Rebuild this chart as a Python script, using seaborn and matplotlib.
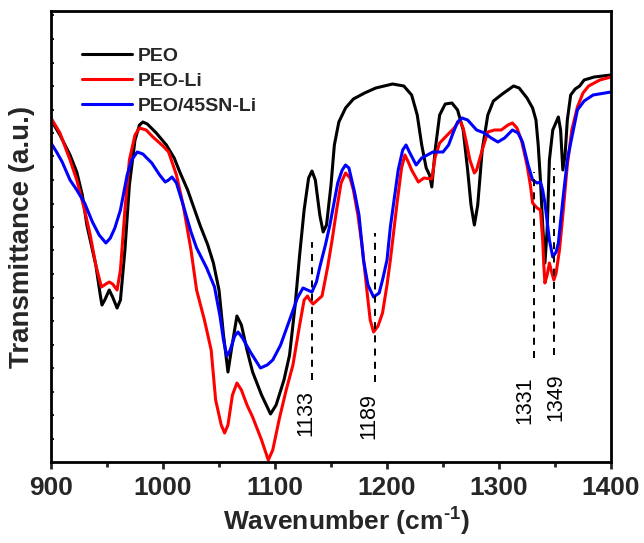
import numpy as np
import pandas as pd
import matplotlib
matplotlib.use("Agg")
import matplotlib.pyplot as plt
import seaborn as sns

# FTIR spectra (transmittance, arbitrary units) vs wavenumber (cm^-1)
peo_wn = [900, 908, 917, 923, 928, 932, 935, 940, 944, 945.5, 948, 952, 955, 959, 962, 966, 970, 975,
          979, 982, 986, 994, 1003, 1010, 1015, 1022, 1033, 1040, 1045, 1050, 1054, 1058, 1061, 1066,
          1070, 1075, 1080, 1088, 1096, 1101, 1108, 1113, 1118, 1122, 1126, 1130, 1133, 1136, 1140,
          1143, 1146, 1150, 1153, 1157, 1163, 1170, 1180, 1190, 1205, 1215, 1222, 1227, 1231, 1235,
          1238, 1240, 1243, 1247, 1252, 1258, 1263, 1268, 1272, 1275, 1278, 1281, 1285, 1290, 1295,
          1303, 1313, 1318, 1325, 1330, 1333, 1335, 1337, 1339, 1341, 1343, 1345, 1348, 1353, 1355,
          1357, 1359, 1361, 1364, 1368, 1372, 1376, 1385, 1400]
peo_px = [120, 135, 155, 172, 195, 225, 240, 265, 295, 305, 300, 290, 297, 308, 300, 250, 185, 140,
          125, 122, 124, 133, 145, 158, 172, 190, 225, 245, 263, 290, 335, 372, 350, 316,
          325, 350, 372, 395, 414, 405, 380, 355, 305, 255, 210, 178, 171, 180, 215,
          232, 225, 185, 145, 122, 108, 99, 93, 88, 84, 86, 95, 115, 145, 168,
          175, 187, 150, 115, 104, 103, 110, 130, 170, 205, 225, 205, 150, 115, 101,
          94, 86, 88, 98, 108, 120, 145, 180, 225, 263, 230, 160, 130, 117, 130,
          170, 155, 120, 95, 89, 86, 80, 77, 75]

peoli_wn = [900, 908, 917, 923, 930, 935, 940, 945, 949, 952, 955, 959, 962, 966, 970, 975, 979, 985,
            991, 1000, 1005, 1012, 1018, 1025, 1030, 1037, 1043, 1047, 1052, 1055, 1058, 1062, 1066,
            1070, 1075, 1080, 1088, 1094, 1098, 1104, 1110, 1116, 1122, 1126, 1129, 1131, 1134, 1138,
            1142, 1147, 1151, 1155, 1159, 1163, 1167, 1170, 1174, 1178, 1182, 1185, 1188, 1192, 1196,
            1200, 1203, 1209, 1213, 1216, 1219, 1222, 1228, 1233, 1240, 1243, 1247, 1253, 1260, 1265,
            1268, 1271, 1274, 1278, 1280, 1285, 1290, 1296, 1302, 1308, 1312, 1316, 1320, 1325, 1328,
            1330, 1334, 1337, 1339, 1340, 1341, 1343, 1345, 1347, 1349, 1351, 1354, 1357, 1361, 1365,
            1370, 1375, 1380, 1390, 1400]
peoli_px = [118, 133, 160, 180, 210, 235, 265, 287, 284, 282, 284, 290, 270, 210, 160, 135, 128, 130,
            137, 146, 152, 175, 205, 250, 290, 320, 350, 400, 425, 433, 425, 395, 383,
            390, 405, 417, 440, 460, 450, 418, 390, 365, 325, 300, 296, 300, 304, 300,
            296, 267, 240, 210, 183, 173, 178, 190, 215, 248, 290, 320, 332, 326, 313,
            285, 260, 203, 168, 155, 162, 170, 182, 178, 179, 157, 143, 136, 128, 120,
            128, 143, 160, 173, 170, 150, 132, 130, 130, 125, 123, 128, 140, 165, 185,
            203, 208, 210, 240, 265, 283, 275, 263, 272, 280, 273, 250, 215, 165, 130,
            107, 93, 86, 80, 77]

sn_wn = [900, 905, 910, 917, 923, 930, 937, 943, 949, 953, 957, 962, 968, 972, 977, 982, 990, 997,
         1002, 1005, 1008, 1012, 1018, 1025, 1030, 1039, 1046, 1051, 1054, 1057, 1060, 1064, 1067,
         1071, 1078, 1087, 1093, 1098, 1105, 1113, 1120, 1125, 1129, 1133, 1137, 1140, 1145, 1149,
         1156, 1160, 1163, 1166, 1171, 1175, 1179, 1183, 1188, 1193, 1196, 1200, 1203, 1210, 1214,
         1217, 1220, 1226, 1231, 1236, 1241, 1250, 1255, 1259, 1263, 1267, 1272, 1280, 1287, 1293,
         1299, 1305, 1312, 1317, 1321, 1326, 1330, 1334, 1337, 1339, 1341, 1345, 1348, 1351, 1353,
         1357, 1361, 1364, 1370, 1376, 1384, 1400]
sn_px = [143, 152, 162, 180, 190, 203, 222, 235, 243, 238, 228, 210, 175, 160, 152, 154, 163, 175,
         182, 180, 177, 183, 205, 232, 248, 268, 287, 317, 340, 356, 350, 336, 332,
         338, 352, 368, 365, 360, 345, 320, 298, 288, 290, 292, 282, 267, 245, 225,
         183, 170, 165, 168, 192, 215, 260, 285, 297, 293, 280, 260, 227, 170, 150,
         145, 152, 165, 158, 155, 152, 152, 145, 133, 122, 118, 120, 130, 133, 138,
         142, 138, 130, 133, 142, 165, 180, 183, 182, 190, 203, 240, 257, 252, 243,
         200, 160, 143, 110, 101, 95, 92]

series_names = ["PEO", "PEO-Li", "PEO/45SN-Li"]
series_colors = ["#000000", "#ff0000", "#0000ff"]

# marked absorption bands: (wavenumber, top, bottom) of the dashed guide
band_wn = [1133, 1189, 1331, 1349]
band_top = [22.0, 22.9, 29.0, 29.4]
band_bottom = [8.2, 8.0, 10.4, 10.7]
band_label_top = [7.2, 6.9, 8.6, 8.9]
band_label_dx = [-4.5, -4.5, -6.5, 1.5]   # text offset in points

def to_t(px):
    return [round(46.2 - p / 10.0, 2) for p in px]

frames = []
for name, wn, px in [(series_names[0], peo_wn, peo_px),
                     (series_names[1], peoli_wn, peoli_px),
                     (series_names[2], sn_wn, sn_px)]:
    frames.append(pd.DataFrame({"wavenumber": wn, "T": to_t(px), "sample": name}))
df = pd.concat(frames, ignore_index=True)

sns.set_theme(style="white")
plt.rcParams["font.family"] = ["Liberation Sans", "DejaVu Sans"]
plt.rcParams["mathtext.fontset"] = "custom"
plt.rcParams["mathtext.rm"] = "Liberation Sans:bold"
plt.rcParams["mathtext.bf"] = "Liberation Sans:bold"
plt.rcParams["axes.linewidth"] = 2.0
plt.rcParams["lines.solid_joinstyle"] = "round"
plt.rcParams["lines.solid_capstyle"] = "round"

fig = plt.figure(figsize=(6.44, 5.43), dpi=100)
ax = fig.add_axes([51 / 644, 1 - 462 / 543, 560 / 644, 451 / 543])

for name, color in zip(series_names, series_colors):
    sns.lineplot(data=df[df["sample"] == name], x="wavenumber", y="T", color=color,
                 linewidth=2.2, ax=ax, label=name, estimator=None, sort=False)

for wn, top, bot, ltop, dx in zip(band_wn, band_top, band_bottom, band_label_top, band_label_dx):
    ax.plot([wn, wn], [bot, top], color="black", linestyle=(0, (3.6, 3.2)), linewidth=1.4)
    ax.annotate(str(wn), xy=(wn, ltop), xytext=(dx, 0), textcoords="offset points",
                rotation=90, ha="center", va="top", fontsize=15.5, color="black")

ax.set_xlim(900, 1400)
ax.set_ylim(0, 45.1)
ax.set_xticks(np.arange(900, 1401, 100))
ax.set_xticks(np.arange(950, 1400, 100), minor=True)
ax.set_yticks(np.arange(2.35, 45.0, 2.35))
ax.set_yticklabels([])

ax.tick_params(axis="x", which="major", direction="out", length=5, width=2, pad=5,
               labelsize=19, bottom=True)
ax.tick_params(axis="x", which="minor", direction="out", length=3.5, width=2, bottom=True)
ax.tick_params(axis="y", which="major", direction="in", length=2.5, width=1.5, left=True)
for lbl in ax.get_xticklabels():
    lbl.set_fontweight("bold")

ax.set_xlabel("Wavenumber (cm$^{\\text{-1}}$)", fontsize=19, fontweight="bold")
ax.xaxis.set_label_coords(0.527, -0.093)
ax.set_ylabel("Transmittance (a.u.)", fontsize=20, fontweight="bold", labelpad=8)

for sp in ax.spines.values():
    sp.set_visible(True)
    sp.set_color("black")
    sp.set_linewidth(2.0)

leg = ax.legend(loc="upper left", bbox_to_anchor=(0.055, 0.919), frameon=False,
                prop={"weight": "bold", "size": 14}, handlelength=2.6, handletextpad=0.3,
                labelspacing=0.38, borderpad=0, borderaxespad=0)
for line in leg.get_lines():
    line.set_linewidth(2.2)

fig.savefig("out.png", dpi=100)
